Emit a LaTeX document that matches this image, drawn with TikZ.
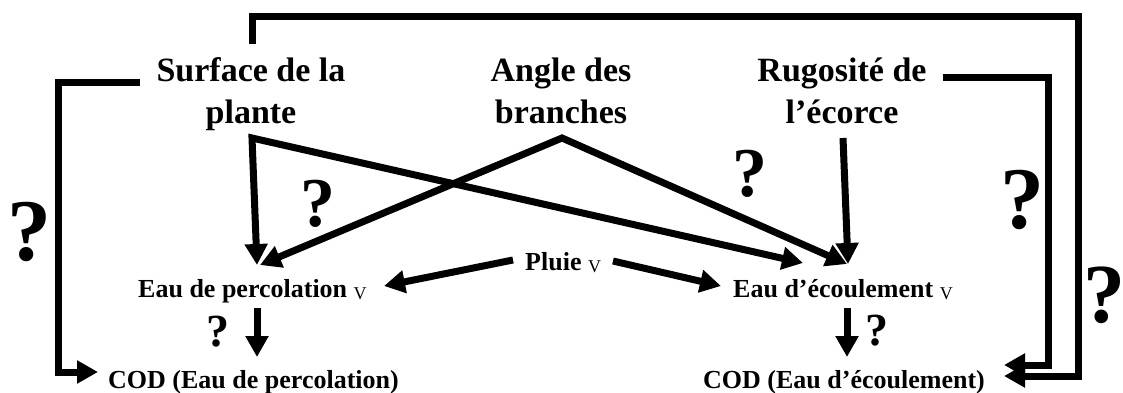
\documentclass[tikz,border=0pt]{standalone}
\usepackage{fontspec}
\setmainfont{Liberation Serif}
\usetikzlibrary{arrows.meta}
\newcommand{\subV}{\raisebox{-2pt}{\fontsize{18}{18}\selectfont\mdseries V}}
\begin{document}
\begin{tikzpicture}[x=1pt,y=-1pt,
  conn/.style={line width=7pt,line join=miter,-{Triangle[length=21pt,width=22pt]}},
  conn2/.style={line width=7pt,line join=miter,{Triangle[length=21pt,width=22pt]}-{Triangle[length=21pt,width=22pt]}},
  bigtxt/.style={font=\fontsize{34}{42}\selectfont\bfseries,align=center,inner sep=0pt},
  smalltxt/.style={font=\fontsize{26}{30}\selectfont\bfseries,inner sep=0pt,anchor=base west},
  qm/.style={inner sep=0pt,font=\bfseries}]
\useasboundingbox (0,0) rectangle (1123,393);
% text nodes
\node[bigtxt] (surf) at (251,94) {Surface de la\\plante};
\node[bigtxt] (angle) at (561,91) {Angle des\\branches};
\node[bigtxt] (rug) at (842,91) {Rugosité de\\l’écorce};
\node[smalltxt] (pluie) at (525,270) {Pluie \subV};
\node[smalltxt] (perc) at (138,297) {Eau de percolation \subV};
\node[smalltxt] (ecoul) at (733,297) {Eau d’écoulement \subV};
\node[smalltxt] (codp) at (108,388) {COD (Eau de percolation)};
\node[smalltxt] (code) at (703,388) {COD (Eau d’écoulement)};
% question marks
\node[qm,font=\fontsize{88}{88}\selectfont\bfseries] (q1) at (30,232) {?};
\node[qm,font=\fontsize{70}{70}\selectfont\bfseries] (q2) at (318,204) {?};
\node[qm,font=\fontsize{70}{70}\selectfont\bfseries] (q3) at (750,174) {?};
\node[qm,font=\fontsize{88}{88}\selectfont\bfseries] (q4) at (1022,200) {?};
\node[qm,font=\fontsize{84}{84}\selectfont\bfseries] (q5) at (1104,295) {?};
\node[qm,font=\fontsize{46}{46}\selectfont\bfseries] (q6) at (218,332) {?};
\node[qm,font=\fontsize{46}{46}\selectfont\bfseries] (q7) at (877,331) {?};
% connector points
\coordinate (surfA) at (252,138);
\coordinate (angA) at (562,138);
\coordinate (rugA) at (843,138);
\coordinate (percIn1) at (257,265);
\coordinate (percIn2) at (260,265);
\coordinate (ecIn1) at (803,263);
\coordinate (ecIn2) at (847,264);
\coordinate (ecIn3) at (848,264);
\coordinate (pluieL) at (513,260);
\coordinate (pluieR) at (613,261);
\coordinate (percR) at (384,286);
\coordinate (ecL) at (721,286);
\coordinate (percB) at (257,308);
\coordinate (codpT) at (257,357);
\coordinate (ecB) at (847,308);
\coordinate (codeT) at (847,357);
\coordinate (surfL) at (140,83);
\coordinate (codpL) at (98,372);
\coordinate (surfT) at (252,44);
\coordinate (rugR) at (943,78);
\coordinate (codeR1) at (1004,365);
\coordinate (codeR2) at (1004,376);
% connectors
\draw[conn2] (percIn1) -- (surfA) -- (ecIn1);
\draw[conn2] (percIn2) -- (angA) -- (ecIn2);
\draw[conn] (rugA) -- (ecIn3);
\draw[conn] (pluieL) -- (percR);
\draw[conn] (pluieR) -- (ecL);
\draw[conn] (percB) -- (codpT);
\draw[conn] (ecB) -- (codeT);
\draw[conn] (surfL) -- (58,83) -- (58,372) -- (codpL);
\draw[conn] (surfT) -- (252,17) -- (1078,17) -- (1078,376) -- (codeR2);
\draw[conn] (rugR) -- (1048,78) -- (1048,365) -- (codeR1);
\end{tikzpicture}
\end{document}
